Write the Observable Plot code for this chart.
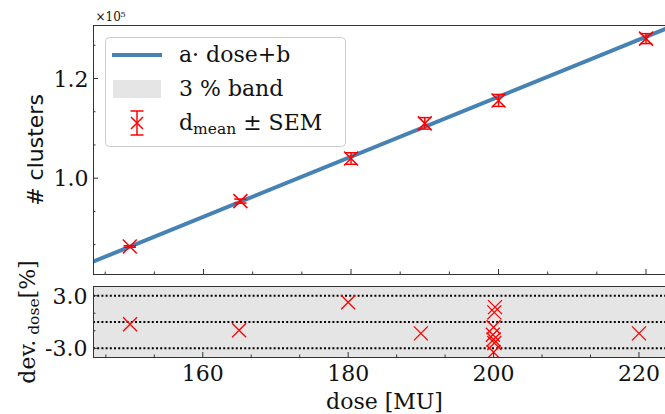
<!DOCTYPE html>
<html>
<head>
<meta charset="utf-8">
<script src="https://cdn.jsdelivr.net/npm/d3@7"></script>
<script src="https://cdn.jsdelivr.net/npm/@observablehq/plot@0.6"></script>
<style>
  html, body { margin: 0; padding: 0; background: #fff; }
  #wrap { position: relative; width: 665px; height: 414px; overflow: hidden; }
  #wrap svg.plot { display: block; }
  #overlay { position: absolute; left: 0; top: 0; pointer-events: none; }
</style>
</head>
<body>
<div id="wrap"></div>
<script>
// ---------- data ----------
const doses = [150, 165, 180, 190, 200, 220];
const clusterMeans = [86300, 95400, 103950, 111000, 115600, 128000];
const clusterSEM = [150, 400, 1150, 1150, 1200, 1000];

const fitA = 601.9;     // slope (clusters per MU)
const fitB = -4034;     // intercept

const resDose = [150, 165, 180, 190, 200.2, 200.1, 200, 199.9, 200, 200.1, 200, 220];
const resDev  = [-0.25, -0.95, 2.25, -1.3, 1.7, 1.1, -0.6, -1.45, -2.0, -2.4, -3.45, -1.3];

const bandLimits = [-3, 0, 3];
const xMajor = [160, 180, 200, 220];
const xMinor = [146.667, 153.333, 166.667, 173.333, 186.667, 193.333, 206.667, 213.333];
const yMajorTop = [100000, 120000];
const yMinorTop = [86667, 93333, 106667, 113333, 126667];
const yMajorBot = [-3, 3];
const yMinorBot = [-1, 1];

// ---------- layout ----------
const W = 665;
const topX = [145.08, 222.64];
const topY = [80680, 130630];
const botX = [144.97, 223.65];
const botY = [-4.05, 4.05];
const ML = 93;
const topH = 280, topMT = 25, topMB = 6;
const botH = 134, botMT = 6, botMB = 57;
const plotW = W - ML;
const topPH = topH - topMT - topMB;
const botPH = botH - botMT - botMB;

const serif = "DejaVu Serif";
const red = "#ff0000";
const spine = "#333333";

const xSym = {draw(ctx, size) { const r = Math.sqrt(size / Math.PI); ctx.moveTo(-r, -r); ctx.lineTo(r, r); ctx.moveTo(-r, r); ctx.lineTo(r, -r); }};
const capSym = {draw(ctx, size) { const r = Math.sqrt(size / Math.PI); ctx.moveTo(-r, 0); ctx.lineTo(r, 0); }};

const points = doses.map((d, i) => ({dose: d, mean: clusterMeans[i], sem: clusterSEM[i]}));
const fit = topX.map(x => ({dose: x, n: fitA * x + fitB}));
const residuals = resDose.map((d, i) => ({dose: d, dev: resDev[i]}));

const topPlot = Plot.plot({
  width: W, height: topH,
  marginLeft: ML, marginRight: 0, marginTop: topMT, marginBottom: topMB,
  x: {domain: topX, axis: null},
  y: {domain: topY, axis: null},
  style: {background: "white", overflow: "visible"},
  marks: [
    Plot.line(fit, {x: "dose", y: "n", stroke: "#4682b4", strokeWidth: 4, clip: true}),
    Plot.ruleX(points, {x: "dose", y1: d => d.mean - d.sem, y2: d => d.mean + d.sem, stroke: red, strokeWidth: 1.5}),
    Plot.dot(points, {x: "dose", y: d => d.mean + d.sem, symbol: capSym, r: 6.2, stroke: red, strokeWidth: 1.5, fill: "none"}),
    Plot.dot(points, {x: "dose", y: d => d.mean - d.sem, symbol: capSym, r: 6.2, stroke: red, strokeWidth: 1.5, fill: "none"}),
    Plot.dot(points, {x: "dose", y: "mean", symbol: xSym, r: 7, stroke: red, strokeWidth: 1.5, fill: "none"}),
    // spines
    Plot.ruleX([topX[0]], {stroke: spine, strokeWidth: 1}),
    Plot.ruleY([topY[0], topY[1]], {stroke: spine, strokeWidth: 1}),
    // ticks (inward)
    Plot.tickX(xMajor, {x: d => d, insetTop: topPH - 5, stroke: spine}),
    Plot.tickX(xMinor, {x: d => d, insetTop: topPH - 2.5, stroke: spine}),
    Plot.tickY(yMajorTop, {y: d => d, insetRight: plotW - 5, stroke: spine}),
    Plot.tickY(yMinorTop, {y: d => d, insetRight: plotW - 2.5, stroke: spine}),
    Plot.text(yMajorTop, {y: d => d, text: d => (d / 1e5).toFixed(1), frameAnchor: "left", textAnchor: "end", lineAnchor: "middle", dx: -5, dy: 1, fontSize: 22, fontFamily: serif, fill: "#111"}),
    Plot.text(["×10⁵"], {text: d => d, frameAnchor: "top-left", textAnchor: "start", lineAnchor: "bottom", dx: 2, dy: -5, fontSize: 12, fontFamily: serif, fill: "#111"}),
    Plot.text(["# clusters"], {text: d => d, frameAnchor: "left", rotate: -90, textAnchor: "middle", lineAnchor: "middle", dx: -58, fontSize: 22, fontFamily: "DejaVu Sans", fill: "#111"})
  ]
});
topPlot.classList.add("plot");

const botPlot = Plot.plot({
  width: W, height: botH,
  marginLeft: ML, marginRight: 0, marginTop: botMT, marginBottom: botMB,
  x: {domain: botX, axis: null},
  y: {domain: botY, axis: null},
  style: {background: "white", overflow: "visible"},
  marks: [
    Plot.rect([0], {x1: botX[0], x2: botX[1], y1: botY[0], y2: botY[1], fill: "#e5e5e5"}),
    Plot.ruleY(bandLimits, {y: d => d, stroke: "#000", strokeWidth: 2, strokeDasharray: "2,2.2"}),
    Plot.dot(residuals, {x: "dose", y: "dev", symbol: xSym, r: 7, stroke: red, strokeWidth: 1.3, fill: "none", clip: true}),
    Plot.ruleX([botX[0]], {stroke: spine, strokeWidth: 1}),
    Plot.ruleY([botY[0], botY[1]], {stroke: spine, strokeWidth: 1}),
    Plot.tickX(xMajor, {x: d => d, insetTop: botPH - 5, stroke: spine}),
    Plot.tickX(xMinor, {x: d => d, insetTop: botPH - 2.5, stroke: spine}),
    Plot.tickY(yMajorBot, {y: d => d, insetRight: plotW - 5, stroke: spine}),
    Plot.tickY(yMinorBot, {y: d => d, insetRight: plotW - 2.5, stroke: spine}),
    Plot.text(yMajorBot, {y: d => d, text: d => d.toFixed(1), frameAnchor: "left", textAnchor: "end", lineAnchor: "middle", dx: -6, dy: 1, fontSize: 22, fontFamily: serif, fill: "#111"}),
    Plot.text(xMajor, {x: d => d, text: d => String(d), frameAnchor: "bottom", textAnchor: "middle", lineAnchor: "middle", dy: 16, fontSize: 22, fontFamily: serif, fill: "#111"}),
    Plot.text(["dose [MU]"], {text: d => d, frameAnchor: "bottom", textAnchor: "middle", lineAnchor: "middle", dx: 5, dy: 44, fontSize: 22, fontFamily: serif, fill: "#111"})
  ]
});
botPlot.classList.add("plot");

const wrap = document.getElementById("wrap");
wrap.appendChild(topPlot);
wrap.appendChild(botPlot);

// ---------- overlay: legend and residual axis label ----------
const NS = "http://www.w3.org/2000/svg";
const ov = document.createElementNS(NS, "svg");
ov.setAttribute("id", "overlay");
ov.setAttribute("width", W);
ov.setAttribute("height", 414);
ov.innerHTML = `
  <g font-family="${serif}" font-size="22" fill="#111">
    <rect x="105.5" y="37.5" width="240" height="109" rx="4" ry="4" fill="#fff" fill-opacity="0.85" stroke="#cccccc" stroke-width="1"/>
    <line x1="112" x2="162" y1="55" y2="55" stroke="#4682b4" stroke-width="4"/>
    <text x="179" y="62">a· dose+b</text>
    <rect x="113" y="80" width="48" height="18" fill="#e5e5e5"/>
    <text x="179" y="96">3 % band</text>
    <g stroke="${red}" stroke-width="1.5" fill="none">
      <line x1="137" x2="137" y1="111" y2="135"/>
      <line x1="130.5" x2="143.5" y1="111" y2="111"/>
      <line x1="130.5" x2="143.5" y1="135" y2="135"/>
      <path d="M131,117L143,129M131,129L143,117"/>
    </g>
    <text x="179" y="130">d<tspan font-size="15.5" dy="4">mean</tspan><tspan dy="-4"> ± SEM</tspan></text>
    <text transform="translate(35,322) rotate(-90)" text-anchor="middle">dev.<tspan font-size="15.5" dy="4"> dose</tspan><tspan dy="-4">[%]</tspan></text>
  </g>`;
wrap.appendChild(ov);
</script>
</body>
</html>
